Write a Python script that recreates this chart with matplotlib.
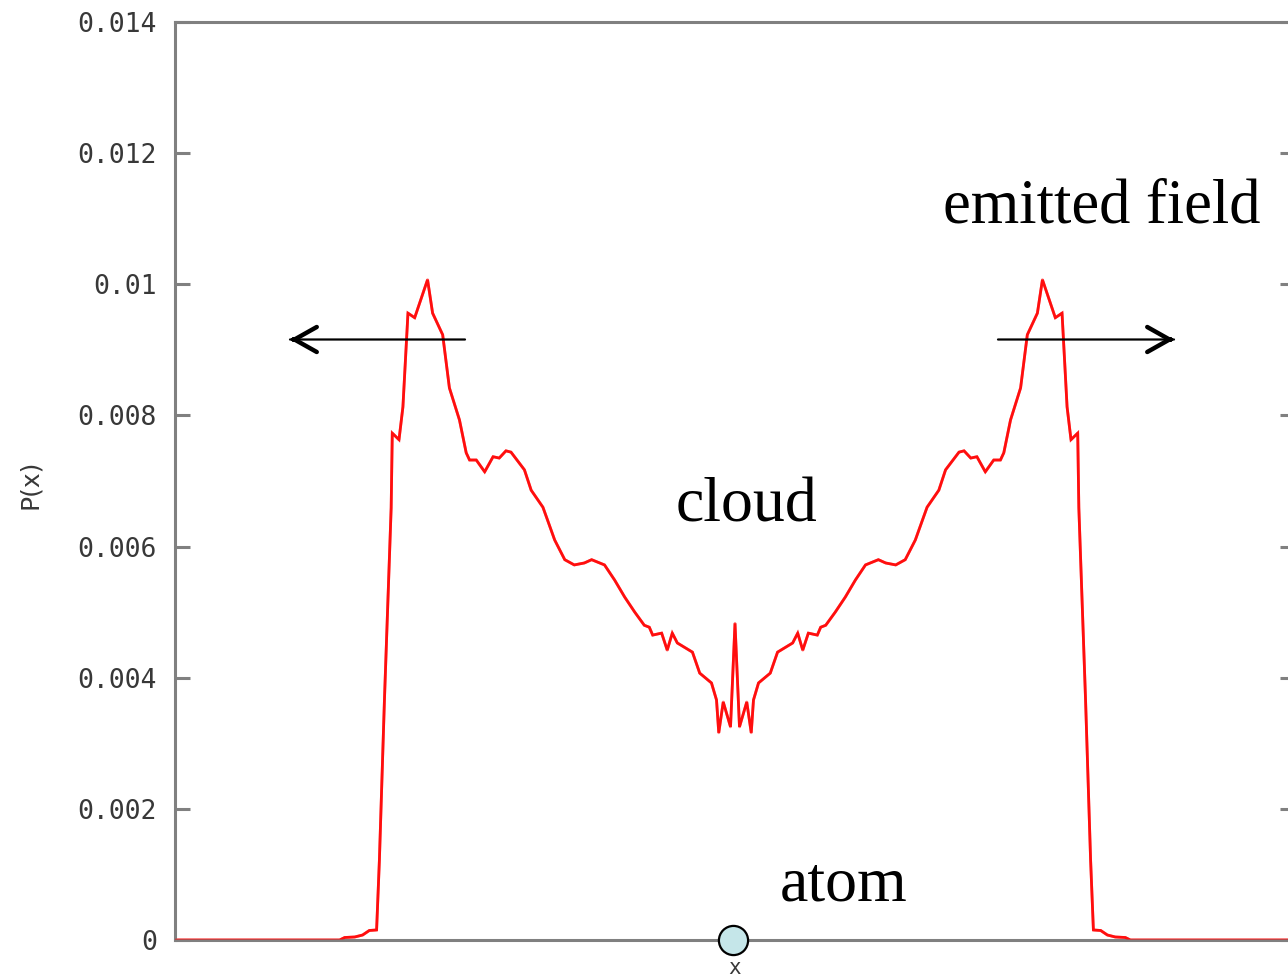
import matplotlib
matplotlib.use("Agg")
import matplotlib.pyplot as plt
import numpy as np

# ---- data ----
x_left = [-100.0, -70.6, -69.7, -67.9, -66.5, -65.3, -64.0, -63.5, -62.6, -61.4,
          -61.2, -60.0, -59.3, -58.4, -57.2, -54.9, -54.0, -52.2, -51.0, -49.2,
          -48.0, -47.4, -46.2, -44.7, -43.2, -42.1, -40.9, -40.0, -37.6, -36.4,
          -34.3, -33.5, -32.2, -30.4, -28.7, -26.9, -25.6, -23.3, -21.5, -19.7,
          -17.9, -16.2, -15.3, -14.7, -13.1, -12.1, -11.2, -10.3, -7.6, -6.3,
          -4.2, -3.3, -2.9, -2.1, -0.8]
p_left = [0.0, 0.0, 0.000038, 0.000046, 0.000076, 0.000145, 0.000153, 0.00122, 0.00366, 0.00659,
          0.00773, 0.00763, 0.00813, 0.00956, 0.00949, 0.01007, 0.00956, 0.00923, 0.00842, 0.00793,
          0.00743, 0.00732, 0.00732, 0.00714, 0.00737, 0.00735, 0.00746, 0.00744, 0.00717, 0.00686,
          0.00660, 0.00641, 0.00610, 0.00580, 0.00572, 0.00575, 0.00580, 0.00572, 0.00549, 0.00523,
          0.00500, 0.00480, 0.00477, 0.00465, 0.00468, 0.00442, 0.00468, 0.00453, 0.00439, 0.00407,
          0.00392, 0.00366, 0.00316, 0.00363, 0.00325]
x_center = [0.0]
p_center = [0.00483]
x_right = [0.8, 2.1, 2.9, 3.3, 4.2, 6.3, 7.6, 10.3, 11.2, 12.1,
           13.1, 14.7, 15.3, 16.2, 17.9, 19.7, 21.5, 23.3, 25.6, 26.9,
           28.7, 30.4, 32.2, 33.5, 34.3, 36.4, 37.6, 40.0, 40.9, 42.1,
           43.2, 44.7, 46.2, 47.4, 48.0, 49.2, 51.0, 52.2, 54.0, 54.9,
           57.2, 58.4, 59.3, 60.0, 61.2, 61.4, 62.6, 63.5, 64.0, 65.3,
           66.5, 67.9, 69.7, 70.6, 100.0]
p_right = [0.00325, 0.00363, 0.00316, 0.00366, 0.00392, 0.00407, 0.00439, 0.00453, 0.00468, 0.00442,
           0.00468, 0.00465, 0.00477, 0.00480, 0.00500, 0.00523, 0.00549, 0.00572, 0.00580, 0.00575,
           0.00572, 0.00580, 0.00610, 0.00641, 0.00660, 0.00686, 0.00717, 0.00744, 0.00746, 0.00735,
           0.00737, 0.00714, 0.00732, 0.00732, 0.00743, 0.00793, 0.00842, 0.00923, 0.00956, 0.01007,
           0.00949, 0.00956, 0.00813, 0.00763, 0.00773, 0.00659, 0.00366, 0.00122, 0.000153, 0.000145,
           0.000076, 0.000046, 0.000038, 0.0, 0.0]

y_ticks = [0.0, 0.002, 0.004, 0.006, 0.008, 0.010, 0.012, 0.014]
y_tick_labels = ["0", "0.002", "0.004", "0.006", "0.008", "0.01", "0.012", "0.014"]
atom_x = [-0.3]
atom_y = [0.0]

x = np.array(x_left + x_center + x_right)
p = np.array(p_left + p_center + p_right)

# ---- figure ----
W, H = 1288, 980
fig = plt.figure(figsize=(W / 100, H / 100), dpi=100)
ax = fig.add_axes([175 / W, 40 / H, 1120 / W, 918 / H])

ax.plot(x, p, color="#ff1a1a", lw=2.0, zorder=2, solid_joinstyle="miter")
ax.plot(x, p, color="#ff0000", lw=2.0, alpha=0.45, zorder=3)

ax.set_xlim(-100, 100)
ax.set_ylim(0, 0.014)

spine_col = "#808080"
for s in ax.spines.values():
    s.set_color(spine_col)
    s.set_linewidth(2.2)

ax.set_xticks([])
ax.set_yticks(y_ticks)
ax.set_yticklabels(y_tick_labels, family="DejaVu Sans Mono", fontsize=19, color="#383838")
ax.tick_params(axis="y", direction="in", length=11, width=2.2, color=spine_col,
               left=True, right=True, labelright=False, pad=13)

fig.text(30 / W, 1 - 484 / H, "P(x)", rotation=90, ha="center", va="center",
         family="DejaVu Sans", fontsize=18, color="#383838")
fig.text(735 / W, 1 - 978 / H, "x", ha="center", va="bottom",
         family="DejaVu Sans Mono", fontsize=15, color="#383838")

# atom marker
ax.plot(atom_x, atom_y, marker="o", ms=21, mfc="#c5e6e9", mec="black", mew=1.6,
        clip_on=False, zorder=6, ls="none")

# annotations
serif = "Liberation Serif"
ax.text((943 - 175) / 1120, (940 - 223) / 918, "emitted field", transform=ax.transAxes,
        family=serif, fontsize=45, ha="left", va="baseline")
ax.text((676 - 175) / 1120, (940 - 521) / 918, "cloud", transform=ax.transAxes,
        family=serif, fontsize=46, ha="left", va="baseline")
ax.text((780 - 175) / 1120, (940 - 900) / 918, "atom", transform=ax.transAxes,
        family=serif, fontsize=46, ha="left", va="baseline")

ya = (940 - 339.5) / 918
for tail, tip in [((465 - 175) / 1120, (290 - 175) / 1120),
                  ((998 - 175) / 1120, (1174 - 175) / 1120)]:
    ax.annotate("", xy=(tip, ya), xytext=(tail, ya), xycoords="axes fraction",
                arrowprops=dict(arrowstyle="-", lw=1.6, color="black",
                                shrinkA=0, shrinkB=0))
    d = 0.004 if tip < tail else -0.004
    ax.annotate("", xy=(tip, ya), xytext=(tip + d, ya), xycoords="axes fraction",
                arrowprops=dict(arrowstyle="->,head_length=0.8,head_width=0.45",
                                lw=3.2, color="black", shrinkA=0, shrinkB=0,
                                mutation_scale=20, capstyle="round"))

fig.savefig("out.png", dpi=100)
